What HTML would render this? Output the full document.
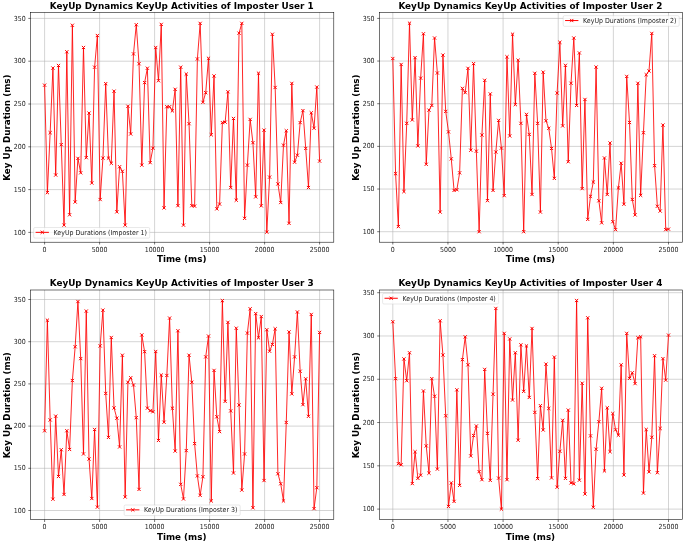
<!DOCTYPE html>
<html lang="en"><head><meta charset="utf-8"><title>KeyUp Dynamics</title>
<style>html,body{margin:0;padding:0;background:#fff}body{width:685px;height:543px;overflow:hidden}svg{display:block}text{font-family:"DejaVu Sans", "Liberation Sans", sans-serif;fill:#111}.t{font-weight:bold;font-size:8.85px;fill:#000}.l{font-weight:bold;font-size:8.75px;fill:#000}.k{font-family:"DejaVu Sans Condensed","DejaVu Sans","Liberation Sans",sans-serif;font-size:6.94px;fill:#222}.g{font-family:"DejaVu Sans Condensed","DejaVu Sans","Liberation Sans",sans-serif;font-size:6.94px;fill:#222;letter-spacing:0.02px}</style></head><body>
<svg width="685" height="543" viewBox="0 0 685 543">
<rect width="685" height="543" fill="#fff"/>
<g>
<path d="M44.6 12.3V242.2M99.6 12.3V242.2M154.6 12.3V242.2M209.6 12.3V242.2M264.6 12.3V242.2M319.6 12.3V242.2M30.6 232.4H333.8M30.6 189.6H333.8M30.6 146.8H333.8M30.6 104H333.8M30.6 61.2H333.8M30.6 18.4H333.8" stroke="#b0b0b0" stroke-width="0.55" fill="none"/>
<path d="M44.6 242.2v2.3M99.6 242.2v2.3M154.6 242.2v2.3M209.6 242.2v2.3M264.6 242.2v2.3M319.6 242.2v2.3M30.6 232.4h-2.3M30.6 189.6h-2.3M30.6 146.8h-2.3M30.6 104h-2.3M30.6 61.2h-2.3M30.6 18.4h-2.3" stroke="#000" stroke-width="0.55" fill="none"/>
<clipPath id="c1"><rect x="30.6" y="12.3" width="303.2" height="229.9"/></clipPath>
<g clip-path="url(#c1)">
<polyline points="44.6,85.17 47.38,192.6 50.16,132.68 52.93,68.05 55.71,175.05 58.49,65.48 61.27,144.66 64.04,225.12 66.82,51.78 69.6,214.77 72.38,25.25 75.16,202.01 77.93,158.36 80.71,172.82 83.49,47.5 86.27,157.67 89.04,113.07 91.82,183.01 94.6,67.19 97.38,35.52 100.16,199.53 102.93,158.1 105.71,83.63 108.49,158.1 111.27,163.32 114.04,91.16 116.82,211.86 119.6,166.74 122.38,171.28 125.16,225.12 127.93,106.23 130.71,133.96 133.49,53.92 136.27,24.73 139.04,63.77 141.82,165.12 144.6,82.6 147.38,68.22 150.16,162.64 152.93,148.17 155.71,47.5 158.49,80.72 161.27,24.39 164.04,207.92 166.82,106.74 169.6,106.74 172.38,110.85 175.16,89.28 177.93,205.69 180.71,67.19 183.49,225.12 186.27,74.04 189.04,123.69 191.82,205.69 194.6,206.12 197.38,58.97 200.16,23.36 202.93,102.29 205.71,92.7 208.49,58.29 211.27,134.82 214.04,75.92 216.82,208.86 219.6,204.07 222.38,122.58 225.16,122.15 227.93,91.76 230.71,187.55 233.49,118.47 236.27,200.21 239.04,33.12 241.82,23.36 244.6,218.36 247.38,165.12 250.16,119.41 252.93,142.69 255.71,196.88 258.49,73.18 261.27,205.86 264.04,130.11 266.82,232.14 269.6,177.1 272.38,34.24 275.16,87.48 277.93,183.95 280.71,202.53 283.49,145.17 286.27,130.71 289.04,223.33 291.82,83.37 294.6,162.21 297.38,155.19 300.16,122.58 302.93,110.59 305.71,148.43 308.49,187.55 311.27,112.82 314.04,128.22 316.82,87.05 319.6,161.1" fill="none" stroke="#ff0000" stroke-width="0.85" stroke-linejoin="round"/>
<path d="M43 83.57l3.2 3.2m0 -3.2l-3.2 3.2M45.78 191l3.2 3.2m0 -3.2l-3.2 3.2M48.56 131.08l3.2 3.2m0 -3.2l-3.2 3.2M51.33 66.45l3.2 3.2m0 -3.2l-3.2 3.2M54.11 173.45l3.2 3.2m0 -3.2l-3.2 3.2M56.89 63.88l3.2 3.2m0 -3.2l-3.2 3.2M59.67 143.06l3.2 3.2m0 -3.2l-3.2 3.2M62.44 223.52l3.2 3.2m0 -3.2l-3.2 3.2M65.22 50.18l3.2 3.2m0 -3.2l-3.2 3.2M68 213.17l3.2 3.2m0 -3.2l-3.2 3.2M70.78 23.65l3.2 3.2m0 -3.2l-3.2 3.2M73.56 200.41l3.2 3.2m0 -3.2l-3.2 3.2M76.33 156.76l3.2 3.2m0 -3.2l-3.2 3.2M79.11 171.22l3.2 3.2m0 -3.2l-3.2 3.2M81.89 45.9l3.2 3.2m0 -3.2l-3.2 3.2M84.67 156.07l3.2 3.2m0 -3.2l-3.2 3.2M87.44 111.47l3.2 3.2m0 -3.2l-3.2 3.2M90.22 181.41l3.2 3.2m0 -3.2l-3.2 3.2M93 65.59l3.2 3.2m0 -3.2l-3.2 3.2M95.78 33.92l3.2 3.2m0 -3.2l-3.2 3.2M98.56 197.93l3.2 3.2m0 -3.2l-3.2 3.2M101.33 156.5l3.2 3.2m0 -3.2l-3.2 3.2M104.11 82.03l3.2 3.2m0 -3.2l-3.2 3.2M106.89 156.5l3.2 3.2m0 -3.2l-3.2 3.2M109.67 161.72l3.2 3.2m0 -3.2l-3.2 3.2M112.44 89.56l3.2 3.2m0 -3.2l-3.2 3.2M115.22 210.26l3.2 3.2m0 -3.2l-3.2 3.2M118 165.14l3.2 3.2m0 -3.2l-3.2 3.2M120.78 169.68l3.2 3.2m0 -3.2l-3.2 3.2M123.56 223.52l3.2 3.2m0 -3.2l-3.2 3.2M126.33 104.63l3.2 3.2m0 -3.2l-3.2 3.2M129.11 132.36l3.2 3.2m0 -3.2l-3.2 3.2M131.89 52.32l3.2 3.2m0 -3.2l-3.2 3.2M134.67 23.13l3.2 3.2m0 -3.2l-3.2 3.2M137.44 62.17l3.2 3.2m0 -3.2l-3.2 3.2M140.22 163.52l3.2 3.2m0 -3.2l-3.2 3.2M143 81l3.2 3.2m0 -3.2l-3.2 3.2M145.78 66.62l3.2 3.2m0 -3.2l-3.2 3.2M148.56 161.04l3.2 3.2m0 -3.2l-3.2 3.2M151.33 146.57l3.2 3.2m0 -3.2l-3.2 3.2M154.11 45.9l3.2 3.2m0 -3.2l-3.2 3.2M156.89 79.12l3.2 3.2m0 -3.2l-3.2 3.2M159.67 22.79l3.2 3.2m0 -3.2l-3.2 3.2M162.44 206.32l3.2 3.2m0 -3.2l-3.2 3.2M165.22 105.14l3.2 3.2m0 -3.2l-3.2 3.2M168 105.14l3.2 3.2m0 -3.2l-3.2 3.2M170.78 109.25l3.2 3.2m0 -3.2l-3.2 3.2M173.56 87.68l3.2 3.2m0 -3.2l-3.2 3.2M176.33 204.09l3.2 3.2m0 -3.2l-3.2 3.2M179.11 65.59l3.2 3.2m0 -3.2l-3.2 3.2M181.89 223.52l3.2 3.2m0 -3.2l-3.2 3.2M184.67 72.44l3.2 3.2m0 -3.2l-3.2 3.2M187.44 122.09l3.2 3.2m0 -3.2l-3.2 3.2M190.22 204.09l3.2 3.2m0 -3.2l-3.2 3.2M193 204.52l3.2 3.2m0 -3.2l-3.2 3.2M195.78 57.37l3.2 3.2m0 -3.2l-3.2 3.2M198.56 21.76l3.2 3.2m0 -3.2l-3.2 3.2M201.33 100.69l3.2 3.2m0 -3.2l-3.2 3.2M204.11 91.1l3.2 3.2m0 -3.2l-3.2 3.2M206.89 56.69l3.2 3.2m0 -3.2l-3.2 3.2M209.67 133.22l3.2 3.2m0 -3.2l-3.2 3.2M212.44 74.32l3.2 3.2m0 -3.2l-3.2 3.2M215.22 207.26l3.2 3.2m0 -3.2l-3.2 3.2M218 202.47l3.2 3.2m0 -3.2l-3.2 3.2M220.78 120.98l3.2 3.2m0 -3.2l-3.2 3.2M223.56 120.55l3.2 3.2m0 -3.2l-3.2 3.2M226.33 90.16l3.2 3.2m0 -3.2l-3.2 3.2M229.11 185.95l3.2 3.2m0 -3.2l-3.2 3.2M231.89 116.87l3.2 3.2m0 -3.2l-3.2 3.2M234.67 198.61l3.2 3.2m0 -3.2l-3.2 3.2M237.44 31.52l3.2 3.2m0 -3.2l-3.2 3.2M240.22 21.76l3.2 3.2m0 -3.2l-3.2 3.2M243 216.76l3.2 3.2m0 -3.2l-3.2 3.2M245.78 163.52l3.2 3.2m0 -3.2l-3.2 3.2M248.56 117.81l3.2 3.2m0 -3.2l-3.2 3.2M251.33 141.09l3.2 3.2m0 -3.2l-3.2 3.2M254.11 195.28l3.2 3.2m0 -3.2l-3.2 3.2M256.89 71.58l3.2 3.2m0 -3.2l-3.2 3.2M259.67 204.26l3.2 3.2m0 -3.2l-3.2 3.2M262.44 128.51l3.2 3.2m0 -3.2l-3.2 3.2M265.22 230.54l3.2 3.2m0 -3.2l-3.2 3.2M268 175.5l3.2 3.2m0 -3.2l-3.2 3.2M270.78 32.64l3.2 3.2m0 -3.2l-3.2 3.2M273.56 85.88l3.2 3.2m0 -3.2l-3.2 3.2M276.33 182.35l3.2 3.2m0 -3.2l-3.2 3.2M279.11 200.93l3.2 3.2m0 -3.2l-3.2 3.2M281.89 143.57l3.2 3.2m0 -3.2l-3.2 3.2M284.67 129.11l3.2 3.2m0 -3.2l-3.2 3.2M287.44 221.73l3.2 3.2m0 -3.2l-3.2 3.2M290.22 81.77l3.2 3.2m0 -3.2l-3.2 3.2M293 160.61l3.2 3.2m0 -3.2l-3.2 3.2M295.78 153.59l3.2 3.2m0 -3.2l-3.2 3.2M298.56 120.98l3.2 3.2m0 -3.2l-3.2 3.2M301.33 108.99l3.2 3.2m0 -3.2l-3.2 3.2M304.11 146.83l3.2 3.2m0 -3.2l-3.2 3.2M306.89 185.95l3.2 3.2m0 -3.2l-3.2 3.2M309.67 111.22l3.2 3.2m0 -3.2l-3.2 3.2M312.44 126.62l3.2 3.2m0 -3.2l-3.2 3.2M315.22 85.45l3.2 3.2m0 -3.2l-3.2 3.2M318 159.5l3.2 3.2m0 -3.2l-3.2 3.2" stroke="#ff0000" stroke-width="1" fill="none"/>
</g>
<rect x="30.6" y="12.3" width="303.2" height="229.9" fill="none" stroke="#000" stroke-width="0.55"/>
<text class="k" x="44.6" y="251.9" text-anchor="middle">0</text>
<text class="k" x="99.6" y="251.9" text-anchor="middle">5000</text>
<text class="k" x="154.6" y="251.9" text-anchor="middle">10000</text>
<text class="k" x="209.6" y="251.9" text-anchor="middle">15000</text>
<text class="k" x="264.6" y="251.9" text-anchor="middle">20000</text>
<text class="k" x="319.6" y="251.9" text-anchor="middle">25000</text>
<text class="k" x="25.7" y="234.5" text-anchor="end">100</text>
<text class="k" x="25.7" y="191.7" text-anchor="end">150</text>
<text class="k" x="25.7" y="148.9" text-anchor="end">200</text>
<text class="k" x="25.7" y="106.1" text-anchor="end">250</text>
<text class="k" x="25.7" y="63.3" text-anchor="end">300</text>
<text class="k" x="25.7" y="20.5" text-anchor="end">350</text>
<text class="t" x="181.7" y="9.1" text-anchor="middle">KeyUp Dynamics KeyUp Activities of Imposter User 1</text>
<text class="l" x="181.7" y="262.3" text-anchor="middle">Time (ms)</text>
<text class="l" transform="translate(9.6 127.65) rotate(-90)" text-anchor="middle">Key Up Duration (ms)</text>
<rect x="33.7" y="227.5" width="116" height="10.6" rx="1.3" fill="#fff" fill-opacity="0.8" stroke="#ccc" stroke-opacity="0.8" stroke-width="0.55"/>
<path d="M35.6 232.35h13.3" stroke="#ff0000" stroke-width="1" fill="none"/>
<path d="M40.65 230.75l3.2 3.2m0 -3.2l-3.2 3.2" stroke="#ff0000" stroke-width="1" fill="none"/>
<text class="g" x="53.6" y="234.8">KeyUp Durations (Imposter 1)</text>
</g>
<g>
<path d="M392.8 12.3V242.2M447.94 12.3V242.2M503.08 12.3V242.2M558.22 12.3V242.2M613.36 12.3V242.2M668.5 12.3V242.2M379.5 231.7H682.3M379.5 189.04H682.3M379.5 146.38H682.3M379.5 103.72H682.3M379.5 61.06H682.3M379.5 18.4H682.3" stroke="#b0b0b0" stroke-width="0.55" fill="none"/>
<path d="M392.8 242.2v2.3M447.94 242.2v2.3M503.08 242.2v2.3M558.22 242.2v2.3M613.36 242.2v2.3M668.5 242.2v2.3M379.5 231.7h-2.3M379.5 189.04h-2.3M379.5 146.38h-2.3M379.5 103.72h-2.3M379.5 61.06h-2.3M379.5 18.4h-2.3" stroke="#000" stroke-width="0.55" fill="none"/>
<clipPath id="c2"><rect x="379.5" y="12.3" width="302.8" height="229.9"/></clipPath>
<g clip-path="url(#c2)">
<polyline points="392.8,58.5 395.58,173.68 398.37,226.58 401.15,64.47 403.94,191.6 406.72,123.34 409.51,23.18 412.29,119.93 415.08,57.65 417.86,145.95 420.65,78.12 423.43,33.76 426.22,164.3 429,110.12 431.79,105.43 434.57,38.02 437.36,73 440.14,212.08 442.93,55.09 445.71,111.4 448.5,131.88 451.28,158.84 454.07,190.41 456.85,189.72 459.64,172.83 462.42,88.36 465.21,92.63 467.99,68.31 470.78,150.22 473.56,63.62 476.35,151.16 479.13,231.7 481.92,135.03 484.7,80.26 487.48,200.64 490.27,93.91 493.05,190.41 495.84,152.01 498.62,120.36 501.41,148.09 504.19,195.61 506.98,56.79 509.76,135.97 512.55,34.18 515.33,104.57 518.12,60.21 520.9,123.34 523.69,231.7 526.47,114.38 529.26,134.44 532.04,194.5 534.83,73.26 537.61,123.34 540.4,212.08 543.18,72.15 545.97,120.78 548.75,128.29 551.54,148.43 554.32,178.38 557.11,93.06 559.89,42.29 562.68,125.9 565.46,65.33 568.25,161.74 571.03,83.24 573.82,38.02 576.6,105.43 579.38,52.95 582.17,188.61 584.95,99.45 587.74,219.41 590.52,196.29 593.31,182.04 596.09,67.03 598.88,200.81 601.66,222.83 604.45,157.98 607.23,194.5 610.02,142.97 612.8,221.72 615.59,229.65 618.37,187.93 621.16,163.19 623.94,204.23 626.73,76.42 629.51,122.49 632.3,199.45 635.08,214.89 637.87,83.24 640.65,195.35 643.44,132.73 646.22,74.71 649.01,70.96 651.79,33.42 654.58,165.66 657.36,206.27 660.15,211.05 662.93,125.05 665.72,229.65 668.5,229.14" fill="none" stroke="#ff0000" stroke-width="0.85" stroke-linejoin="round"/>
<path d="M391.2 56.9l3.2 3.2m0 -3.2l-3.2 3.2M393.98 172.08l3.2 3.2m0 -3.2l-3.2 3.2M396.77 224.98l3.2 3.2m0 -3.2l-3.2 3.2M399.55 62.87l3.2 3.2m0 -3.2l-3.2 3.2M402.34 190l3.2 3.2m0 -3.2l-3.2 3.2M405.12 121.74l3.2 3.2m0 -3.2l-3.2 3.2M407.91 21.58l3.2 3.2m0 -3.2l-3.2 3.2M410.69 118.33l3.2 3.2m0 -3.2l-3.2 3.2M413.48 56.05l3.2 3.2m0 -3.2l-3.2 3.2M416.26 144.35l3.2 3.2m0 -3.2l-3.2 3.2M419.05 76.52l3.2 3.2m0 -3.2l-3.2 3.2M421.83 32.16l3.2 3.2m0 -3.2l-3.2 3.2M424.62 162.7l3.2 3.2m0 -3.2l-3.2 3.2M427.4 108.52l3.2 3.2m0 -3.2l-3.2 3.2M430.19 103.83l3.2 3.2m0 -3.2l-3.2 3.2M432.97 36.42l3.2 3.2m0 -3.2l-3.2 3.2M435.76 71.4l3.2 3.2m0 -3.2l-3.2 3.2M438.54 210.48l3.2 3.2m0 -3.2l-3.2 3.2M441.33 53.49l3.2 3.2m0 -3.2l-3.2 3.2M444.11 109.8l3.2 3.2m0 -3.2l-3.2 3.2M446.9 130.28l3.2 3.2m0 -3.2l-3.2 3.2M449.68 157.24l3.2 3.2m0 -3.2l-3.2 3.2M452.47 188.81l3.2 3.2m0 -3.2l-3.2 3.2M455.25 188.12l3.2 3.2m0 -3.2l-3.2 3.2M458.04 171.23l3.2 3.2m0 -3.2l-3.2 3.2M460.82 86.76l3.2 3.2m0 -3.2l-3.2 3.2M463.61 91.03l3.2 3.2m0 -3.2l-3.2 3.2M466.39 66.71l3.2 3.2m0 -3.2l-3.2 3.2M469.18 148.62l3.2 3.2m0 -3.2l-3.2 3.2M471.96 62.02l3.2 3.2m0 -3.2l-3.2 3.2M474.75 149.56l3.2 3.2m0 -3.2l-3.2 3.2M477.53 230.1l3.2 3.2m0 -3.2l-3.2 3.2M480.32 133.43l3.2 3.2m0 -3.2l-3.2 3.2M483.1 78.66l3.2 3.2m0 -3.2l-3.2 3.2M485.88 199.04l3.2 3.2m0 -3.2l-3.2 3.2M488.67 92.31l3.2 3.2m0 -3.2l-3.2 3.2M491.45 188.81l3.2 3.2m0 -3.2l-3.2 3.2M494.24 150.41l3.2 3.2m0 -3.2l-3.2 3.2M497.02 118.76l3.2 3.2m0 -3.2l-3.2 3.2M499.81 146.49l3.2 3.2m0 -3.2l-3.2 3.2M502.59 194.01l3.2 3.2m0 -3.2l-3.2 3.2M505.38 55.19l3.2 3.2m0 -3.2l-3.2 3.2M508.16 134.37l3.2 3.2m0 -3.2l-3.2 3.2M510.95 32.58l3.2 3.2m0 -3.2l-3.2 3.2M513.73 102.97l3.2 3.2m0 -3.2l-3.2 3.2M516.52 58.61l3.2 3.2m0 -3.2l-3.2 3.2M519.3 121.74l3.2 3.2m0 -3.2l-3.2 3.2M522.09 230.1l3.2 3.2m0 -3.2l-3.2 3.2M524.87 112.78l3.2 3.2m0 -3.2l-3.2 3.2M527.66 132.84l3.2 3.2m0 -3.2l-3.2 3.2M530.44 192.9l3.2 3.2m0 -3.2l-3.2 3.2M533.23 71.66l3.2 3.2m0 -3.2l-3.2 3.2M536.01 121.74l3.2 3.2m0 -3.2l-3.2 3.2M538.8 210.48l3.2 3.2m0 -3.2l-3.2 3.2M541.58 70.55l3.2 3.2m0 -3.2l-3.2 3.2M544.37 119.18l3.2 3.2m0 -3.2l-3.2 3.2M547.15 126.69l3.2 3.2m0 -3.2l-3.2 3.2M549.94 146.83l3.2 3.2m0 -3.2l-3.2 3.2M552.72 176.78l3.2 3.2m0 -3.2l-3.2 3.2M555.51 91.46l3.2 3.2m0 -3.2l-3.2 3.2M558.29 40.69l3.2 3.2m0 -3.2l-3.2 3.2M561.08 124.3l3.2 3.2m0 -3.2l-3.2 3.2M563.86 63.73l3.2 3.2m0 -3.2l-3.2 3.2M566.65 160.14l3.2 3.2m0 -3.2l-3.2 3.2M569.43 81.64l3.2 3.2m0 -3.2l-3.2 3.2M572.22 36.42l3.2 3.2m0 -3.2l-3.2 3.2M575 103.83l3.2 3.2m0 -3.2l-3.2 3.2M577.78 51.35l3.2 3.2m0 -3.2l-3.2 3.2M580.57 187.01l3.2 3.2m0 -3.2l-3.2 3.2M583.35 97.85l3.2 3.2m0 -3.2l-3.2 3.2M586.14 217.81l3.2 3.2m0 -3.2l-3.2 3.2M588.92 194.69l3.2 3.2m0 -3.2l-3.2 3.2M591.71 180.44l3.2 3.2m0 -3.2l-3.2 3.2M594.49 65.43l3.2 3.2m0 -3.2l-3.2 3.2M597.28 199.21l3.2 3.2m0 -3.2l-3.2 3.2M600.06 221.23l3.2 3.2m0 -3.2l-3.2 3.2M602.85 156.38l3.2 3.2m0 -3.2l-3.2 3.2M605.63 192.9l3.2 3.2m0 -3.2l-3.2 3.2M608.42 141.37l3.2 3.2m0 -3.2l-3.2 3.2M611.2 220.12l3.2 3.2m0 -3.2l-3.2 3.2M613.99 228.05l3.2 3.2m0 -3.2l-3.2 3.2M616.77 186.33l3.2 3.2m0 -3.2l-3.2 3.2M619.56 161.59l3.2 3.2m0 -3.2l-3.2 3.2M622.34 202.63l3.2 3.2m0 -3.2l-3.2 3.2M625.13 74.82l3.2 3.2m0 -3.2l-3.2 3.2M627.91 120.89l3.2 3.2m0 -3.2l-3.2 3.2M630.7 197.85l3.2 3.2m0 -3.2l-3.2 3.2M633.48 213.29l3.2 3.2m0 -3.2l-3.2 3.2M636.27 81.64l3.2 3.2m0 -3.2l-3.2 3.2M639.05 193.75l3.2 3.2m0 -3.2l-3.2 3.2M641.84 131.13l3.2 3.2m0 -3.2l-3.2 3.2M644.62 73.11l3.2 3.2m0 -3.2l-3.2 3.2M647.41 69.36l3.2 3.2m0 -3.2l-3.2 3.2M650.19 31.82l3.2 3.2m0 -3.2l-3.2 3.2M652.98 164.06l3.2 3.2m0 -3.2l-3.2 3.2M655.76 204.67l3.2 3.2m0 -3.2l-3.2 3.2M658.55 209.45l3.2 3.2m0 -3.2l-3.2 3.2M661.33 123.45l3.2 3.2m0 -3.2l-3.2 3.2M664.12 228.05l3.2 3.2m0 -3.2l-3.2 3.2M666.9 227.54l3.2 3.2m0 -3.2l-3.2 3.2" stroke="#ff0000" stroke-width="1" fill="none"/>
</g>
<rect x="379.5" y="12.3" width="302.8" height="229.9" fill="none" stroke="#000" stroke-width="0.55"/>
<text class="k" x="392.8" y="251.9" text-anchor="middle">0</text>
<text class="k" x="447.94" y="251.9" text-anchor="middle">5000</text>
<text class="k" x="503.08" y="251.9" text-anchor="middle">10000</text>
<text class="k" x="558.22" y="251.9" text-anchor="middle">15000</text>
<text class="k" x="613.36" y="251.9" text-anchor="middle">20000</text>
<text class="k" x="668.5" y="251.9" text-anchor="middle">25000</text>
<text class="k" x="374.6" y="233.8" text-anchor="end">100</text>
<text class="k" x="374.6" y="191.14" text-anchor="end">150</text>
<text class="k" x="374.6" y="148.48" text-anchor="end">200</text>
<text class="k" x="374.6" y="105.82" text-anchor="end">250</text>
<text class="k" x="374.6" y="63.16" text-anchor="end">300</text>
<text class="k" x="374.6" y="20.5" text-anchor="end">350</text>
<text class="t" x="530.4" y="9.1" text-anchor="middle">KeyUp Dynamics KeyUp Activities of Imposter User 2</text>
<text class="l" x="530.4" y="262.3" text-anchor="middle">Time (ms)</text>
<text class="l" transform="translate(358.5 127.65) rotate(-90)" text-anchor="middle">Key Up Duration (ms)</text>
<rect x="563.2" y="15.7" width="116" height="10.6" rx="1.3" fill="#fff" fill-opacity="0.8" stroke="#ccc" stroke-opacity="0.8" stroke-width="0.55"/>
<path d="M565.1 20.55h13.3" stroke="#ff0000" stroke-width="1" fill="none"/>
<path d="M570.15 18.95l3.2 3.2m0 -3.2l-3.2 3.2" stroke="#ff0000" stroke-width="1" fill="none"/>
<text class="g" x="583.1" y="23">KeyUp Durations (Imposter 2)</text>
</g>
<g>
<path d="M44.6 290V519.7M99.6 290V519.7M154.6 290V519.7M209.6 290V519.7M264.6 290V519.7M319.6 290V519.7M30.6 510.5H333.8M30.6 468.3H333.8M30.6 426.1H333.8M30.6 383.9H333.8M30.6 341.7H333.8M30.6 299.5H333.8" stroke="#b0b0b0" stroke-width="0.55" fill="none"/>
<path d="M44.6 519.7v2.3M99.6 519.7v2.3M154.6 519.7v2.3M209.6 519.7v2.3M264.6 519.7v2.3M319.6 519.7v2.3M30.6 510.5h-2.3M30.6 468.3h-2.3M30.6 426.1h-2.3M30.6 383.9h-2.3M30.6 341.7h-2.3M30.6 299.5h-2.3" stroke="#000" stroke-width="0.55" fill="none"/>
<clipPath id="c3"><rect x="30.6" y="290" width="303.2" height="229.7"/></clipPath>
<g clip-path="url(#c3)">
<polyline points="44.6,430.83 47.38,320.18 50.16,419.94 52.93,499.19 55.71,416.14 58.49,476.49 61.27,449.73 64.04,494.46 66.82,430.74 69.6,449.48 72.38,380.52 75.16,346.76 77.93,301.53 80.71,358.58 83.49,453.95 86.27,311.06 89.04,459.02 91.82,498.52 94.6,429.48 97.38,507.12 100.16,345.92 102.93,310.13 105.71,393.44 108.49,437.41 111.27,337.48 114.04,407.95 116.82,418.17 119.6,446.95 122.38,355.2 125.16,497 127.93,382.21 130.71,377.74 133.49,385 136.27,417.66 139.04,489.4 141.82,334.95 144.6,351.66 147.38,408.12 150.16,410.65 152.93,411.75 155.71,351.49 158.49,440.45 161.27,375.04 164.04,422.22 166.82,375.46 169.6,318.07 172.38,408.21 175.16,451.08 177.93,330.73 180.71,484.34 183.49,498.94 186.27,450.58 189.04,355.2 191.82,382.21 194.6,443.57 197.38,475.9 200.16,495.31 202.93,476.74 205.71,356.89 208.49,336.05 211.27,500.96 214.04,370.4 216.82,416.82 219.6,431.59 222.38,300.6 225.16,401.37 227.93,322.29 230.71,410.91 233.49,473.03 236.27,328.2 239.04,405 241.82,490.08 244.6,453.95 247.38,333.09 250.16,308.78 252.93,507.8 255.71,313.59 258.49,337.82 261.27,316.55 264.04,480.54 266.82,329.72 269.6,351.24 272.38,344.4 275.16,328.79 277.93,473.79 280.71,483.75 283.49,500.96 286.27,422.47 289.04,331.91 291.82,393.86 294.6,356.89 297.38,311.99 300.16,371.24 302.93,404.66 305.71,378.84 308.49,416.31 311.27,314.44 314.04,508.64 316.82,487.71 319.6,332.42" fill="none" stroke="#ff0000" stroke-width="0.85" stroke-linejoin="round"/>
<path d="M43 429.23l3.2 3.2m0 -3.2l-3.2 3.2M45.78 318.58l3.2 3.2m0 -3.2l-3.2 3.2M48.56 418.34l3.2 3.2m0 -3.2l-3.2 3.2M51.33 497.59l3.2 3.2m0 -3.2l-3.2 3.2M54.11 414.54l3.2 3.2m0 -3.2l-3.2 3.2M56.89 474.89l3.2 3.2m0 -3.2l-3.2 3.2M59.67 448.13l3.2 3.2m0 -3.2l-3.2 3.2M62.44 492.86l3.2 3.2m0 -3.2l-3.2 3.2M65.22 429.14l3.2 3.2m0 -3.2l-3.2 3.2M68 447.88l3.2 3.2m0 -3.2l-3.2 3.2M70.78 378.92l3.2 3.2m0 -3.2l-3.2 3.2M73.56 345.16l3.2 3.2m0 -3.2l-3.2 3.2M76.33 299.93l3.2 3.2m0 -3.2l-3.2 3.2M79.11 356.98l3.2 3.2m0 -3.2l-3.2 3.2M81.89 452.35l3.2 3.2m0 -3.2l-3.2 3.2M84.67 309.46l3.2 3.2m0 -3.2l-3.2 3.2M87.44 457.42l3.2 3.2m0 -3.2l-3.2 3.2M90.22 496.92l3.2 3.2m0 -3.2l-3.2 3.2M93 427.88l3.2 3.2m0 -3.2l-3.2 3.2M95.78 505.52l3.2 3.2m0 -3.2l-3.2 3.2M98.56 344.32l3.2 3.2m0 -3.2l-3.2 3.2M101.33 308.53l3.2 3.2m0 -3.2l-3.2 3.2M104.11 391.84l3.2 3.2m0 -3.2l-3.2 3.2M106.89 435.81l3.2 3.2m0 -3.2l-3.2 3.2M109.67 335.88l3.2 3.2m0 -3.2l-3.2 3.2M112.44 406.35l3.2 3.2m0 -3.2l-3.2 3.2M115.22 416.57l3.2 3.2m0 -3.2l-3.2 3.2M118 445.35l3.2 3.2m0 -3.2l-3.2 3.2M120.78 353.6l3.2 3.2m0 -3.2l-3.2 3.2M123.56 495.4l3.2 3.2m0 -3.2l-3.2 3.2M126.33 380.61l3.2 3.2m0 -3.2l-3.2 3.2M129.11 376.14l3.2 3.2m0 -3.2l-3.2 3.2M131.89 383.4l3.2 3.2m0 -3.2l-3.2 3.2M134.67 416.06l3.2 3.2m0 -3.2l-3.2 3.2M137.44 487.8l3.2 3.2m0 -3.2l-3.2 3.2M140.22 333.35l3.2 3.2m0 -3.2l-3.2 3.2M143 350.06l3.2 3.2m0 -3.2l-3.2 3.2M145.78 406.52l3.2 3.2m0 -3.2l-3.2 3.2M148.56 409.05l3.2 3.2m0 -3.2l-3.2 3.2M151.33 410.15l3.2 3.2m0 -3.2l-3.2 3.2M154.11 349.89l3.2 3.2m0 -3.2l-3.2 3.2M156.89 438.85l3.2 3.2m0 -3.2l-3.2 3.2M159.67 373.44l3.2 3.2m0 -3.2l-3.2 3.2M162.44 420.62l3.2 3.2m0 -3.2l-3.2 3.2M165.22 373.86l3.2 3.2m0 -3.2l-3.2 3.2M168 316.47l3.2 3.2m0 -3.2l-3.2 3.2M170.78 406.61l3.2 3.2m0 -3.2l-3.2 3.2M173.56 449.48l3.2 3.2m0 -3.2l-3.2 3.2M176.33 329.13l3.2 3.2m0 -3.2l-3.2 3.2M179.11 482.74l3.2 3.2m0 -3.2l-3.2 3.2M181.89 497.34l3.2 3.2m0 -3.2l-3.2 3.2M184.67 448.98l3.2 3.2m0 -3.2l-3.2 3.2M187.44 353.6l3.2 3.2m0 -3.2l-3.2 3.2M190.22 380.61l3.2 3.2m0 -3.2l-3.2 3.2M193 441.97l3.2 3.2m0 -3.2l-3.2 3.2M195.78 474.3l3.2 3.2m0 -3.2l-3.2 3.2M198.56 493.71l3.2 3.2m0 -3.2l-3.2 3.2M201.33 475.14l3.2 3.2m0 -3.2l-3.2 3.2M204.11 355.29l3.2 3.2m0 -3.2l-3.2 3.2M206.89 334.45l3.2 3.2m0 -3.2l-3.2 3.2M209.67 499.36l3.2 3.2m0 -3.2l-3.2 3.2M212.44 368.8l3.2 3.2m0 -3.2l-3.2 3.2M215.22 415.22l3.2 3.2m0 -3.2l-3.2 3.2M218 429.99l3.2 3.2m0 -3.2l-3.2 3.2M220.78 299l3.2 3.2m0 -3.2l-3.2 3.2M223.56 399.77l3.2 3.2m0 -3.2l-3.2 3.2M226.33 320.69l3.2 3.2m0 -3.2l-3.2 3.2M229.11 409.31l3.2 3.2m0 -3.2l-3.2 3.2M231.89 471.43l3.2 3.2m0 -3.2l-3.2 3.2M234.67 326.6l3.2 3.2m0 -3.2l-3.2 3.2M237.44 403.4l3.2 3.2m0 -3.2l-3.2 3.2M240.22 488.48l3.2 3.2m0 -3.2l-3.2 3.2M243 452.35l3.2 3.2m0 -3.2l-3.2 3.2M245.78 331.49l3.2 3.2m0 -3.2l-3.2 3.2M248.56 307.18l3.2 3.2m0 -3.2l-3.2 3.2M251.33 506.2l3.2 3.2m0 -3.2l-3.2 3.2M254.11 311.99l3.2 3.2m0 -3.2l-3.2 3.2M256.89 336.22l3.2 3.2m0 -3.2l-3.2 3.2M259.67 314.95l3.2 3.2m0 -3.2l-3.2 3.2M262.44 478.94l3.2 3.2m0 -3.2l-3.2 3.2M265.22 328.12l3.2 3.2m0 -3.2l-3.2 3.2M268 349.64l3.2 3.2m0 -3.2l-3.2 3.2M270.78 342.8l3.2 3.2m0 -3.2l-3.2 3.2M273.56 327.19l3.2 3.2m0 -3.2l-3.2 3.2M276.33 472.19l3.2 3.2m0 -3.2l-3.2 3.2M279.11 482.15l3.2 3.2m0 -3.2l-3.2 3.2M281.89 499.36l3.2 3.2m0 -3.2l-3.2 3.2M284.67 420.87l3.2 3.2m0 -3.2l-3.2 3.2M287.44 330.31l3.2 3.2m0 -3.2l-3.2 3.2M290.22 392.26l3.2 3.2m0 -3.2l-3.2 3.2M293 355.29l3.2 3.2m0 -3.2l-3.2 3.2M295.78 310.39l3.2 3.2m0 -3.2l-3.2 3.2M298.56 369.64l3.2 3.2m0 -3.2l-3.2 3.2M301.33 403.06l3.2 3.2m0 -3.2l-3.2 3.2M304.11 377.24l3.2 3.2m0 -3.2l-3.2 3.2M306.89 414.71l3.2 3.2m0 -3.2l-3.2 3.2M309.67 312.84l3.2 3.2m0 -3.2l-3.2 3.2M312.44 507.04l3.2 3.2m0 -3.2l-3.2 3.2M315.22 486.11l3.2 3.2m0 -3.2l-3.2 3.2M318 330.82l3.2 3.2m0 -3.2l-3.2 3.2" stroke="#ff0000" stroke-width="1" fill="none"/>
</g>
<rect x="30.6" y="290" width="303.2" height="229.7" fill="none" stroke="#000" stroke-width="0.55"/>
<text class="k" x="44.6" y="529" text-anchor="middle">0</text>
<text class="k" x="99.6" y="529" text-anchor="middle">5000</text>
<text class="k" x="154.6" y="529" text-anchor="middle">10000</text>
<text class="k" x="209.6" y="529" text-anchor="middle">15000</text>
<text class="k" x="264.6" y="529" text-anchor="middle">20000</text>
<text class="k" x="319.6" y="529" text-anchor="middle">25000</text>
<text class="k" x="25.7" y="512.6" text-anchor="end">100</text>
<text class="k" x="25.7" y="470.4" text-anchor="end">150</text>
<text class="k" x="25.7" y="428.2" text-anchor="end">200</text>
<text class="k" x="25.7" y="386" text-anchor="end">250</text>
<text class="k" x="25.7" y="343.8" text-anchor="end">300</text>
<text class="k" x="25.7" y="301.6" text-anchor="end">350</text>
<text class="t" x="181.7" y="286.2" text-anchor="middle">KeyUp Dynamics KeyUp Activities of Imposter User 3</text>
<text class="l" x="181.7" y="540" text-anchor="middle">Time (ms)</text>
<text class="l" transform="translate(9.6 405.25) rotate(-90)" text-anchor="middle">Key Up Duration (ms)</text>
<rect x="124.2" y="505" width="116" height="10.6" rx="1.3" fill="#fff" fill-opacity="0.8" stroke="#ccc" stroke-opacity="0.8" stroke-width="0.55"/>
<path d="M126.1 509.85h13.3" stroke="#ff0000" stroke-width="1" fill="none"/>
<path d="M131.15 508.25l3.2 3.2m0 -3.2l-3.2 3.2" stroke="#ff0000" stroke-width="1" fill="none"/>
<text class="g" x="144.1" y="512.3">KeyUp Durations (Imposter 3)</text>
</g>
<g>
<path d="M392.8 290V519.7M447.94 290V519.7M503.08 290V519.7M558.22 290V519.7M613.36 290V519.7M668.5 290V519.7M379.5 509.1H682.3M379.5 465.82H682.3M379.5 422.54H682.3M379.5 379.26H682.3M379.5 335.98H682.3M379.5 292.7H682.3" stroke="#b0b0b0" stroke-width="0.55" fill="none"/>
<path d="M392.8 519.7v2.3M447.94 519.7v2.3M503.08 519.7v2.3M558.22 519.7v2.3M613.36 519.7v2.3M668.5 519.7v2.3M379.5 509.1h-2.3M379.5 465.82h-2.3M379.5 422.54h-2.3M379.5 379.26h-2.3M379.5 335.98h-2.3M379.5 292.7h-2.3" stroke="#000" stroke-width="0.55" fill="none"/>
<clipPath id="c4"><rect x="379.5" y="290" width="302.8" height="229.7"/></clipPath>
<g clip-path="url(#c4)">
<polyline points="392.8,321.7 395.58,378.65 398.37,463.66 401.15,464.78 403.94,358.92 406.72,380.73 409.51,352.77 412.29,483.56 415.08,451.71 417.86,478.37 420.65,475.17 423.43,390.95 426.22,445.91 429,473.18 431.79,378.65 434.57,396.23 437.36,469.11 440.14,320.75 442.93,355.02 445.71,415.79 448.5,506.42 451.28,482.87 454.07,501.4 456.85,389.82 459.64,485.38 462.42,359.61 465.21,336.85 467.99,364.8 470.78,455.95 473.56,435.52 476.35,426 479.13,471.62 481.92,479.67 484.7,369.39 487.48,433.36 490.27,480.36 493.05,394.15 495.84,308.45 498.62,478.11 501.41,509.1 504.19,333.38 506.98,479.67 509.76,338.92 512.55,400.03 515.33,352.77 518.12,440.2 520.9,344.81 523.69,391.38 526.47,345.93 529.26,397.44 532.04,328.45 534.83,412.41 537.61,478.63 540.4,405.66 543.18,429.98 545.97,364.11 548.75,408.43 551.54,477.94 554.32,357.1 557.11,487.2 559.89,451.28 562.68,420.29 565.46,478.37 568.25,410.08 571.03,482.87 573.82,483.82 576.6,300.49 579.38,480.19 582.17,383.24 584.95,493.95 587.74,317.8 590.52,435.87 593.31,507.28 596.09,449.2 598.88,421.67 601.66,388.26 604.45,470.93 607.23,407.82 610.02,451.71 612.8,413.54 615.59,429.81 618.37,435.18 621.16,364.8 623.94,475 626.73,333.38 629.51,378.39 632.3,372.77 635.08,383.59 637.87,337.71 640.65,336.85 643.44,493.09 646.22,429.46 649.01,471.88 651.79,437.26 654.58,355.72 657.36,472.74 660.15,428.43 662.93,358.66 665.72,380.13 668.5,335.11" fill="none" stroke="#ff0000" stroke-width="0.85" stroke-linejoin="round"/>
<path d="M391.2 320.1l3.2 3.2m0 -3.2l-3.2 3.2M393.98 377.05l3.2 3.2m0 -3.2l-3.2 3.2M396.77 462.06l3.2 3.2m0 -3.2l-3.2 3.2M399.55 463.18l3.2 3.2m0 -3.2l-3.2 3.2M402.34 357.32l3.2 3.2m0 -3.2l-3.2 3.2M405.12 379.13l3.2 3.2m0 -3.2l-3.2 3.2M407.91 351.17l3.2 3.2m0 -3.2l-3.2 3.2M410.69 481.96l3.2 3.2m0 -3.2l-3.2 3.2M413.48 450.11l3.2 3.2m0 -3.2l-3.2 3.2M416.26 476.77l3.2 3.2m0 -3.2l-3.2 3.2M419.05 473.57l3.2 3.2m0 -3.2l-3.2 3.2M421.83 389.35l3.2 3.2m0 -3.2l-3.2 3.2M424.62 444.31l3.2 3.2m0 -3.2l-3.2 3.2M427.4 471.58l3.2 3.2m0 -3.2l-3.2 3.2M430.19 377.05l3.2 3.2m0 -3.2l-3.2 3.2M432.97 394.63l3.2 3.2m0 -3.2l-3.2 3.2M435.76 467.51l3.2 3.2m0 -3.2l-3.2 3.2M438.54 319.15l3.2 3.2m0 -3.2l-3.2 3.2M441.33 353.42l3.2 3.2m0 -3.2l-3.2 3.2M444.11 414.19l3.2 3.2m0 -3.2l-3.2 3.2M446.9 504.82l3.2 3.2m0 -3.2l-3.2 3.2M449.68 481.27l3.2 3.2m0 -3.2l-3.2 3.2M452.47 499.8l3.2 3.2m0 -3.2l-3.2 3.2M455.25 388.22l3.2 3.2m0 -3.2l-3.2 3.2M458.04 483.78l3.2 3.2m0 -3.2l-3.2 3.2M460.82 358.01l3.2 3.2m0 -3.2l-3.2 3.2M463.61 335.25l3.2 3.2m0 -3.2l-3.2 3.2M466.39 363.2l3.2 3.2m0 -3.2l-3.2 3.2M469.18 454.35l3.2 3.2m0 -3.2l-3.2 3.2M471.96 433.92l3.2 3.2m0 -3.2l-3.2 3.2M474.75 424.4l3.2 3.2m0 -3.2l-3.2 3.2M477.53 470.02l3.2 3.2m0 -3.2l-3.2 3.2M480.32 478.07l3.2 3.2m0 -3.2l-3.2 3.2M483.1 367.79l3.2 3.2m0 -3.2l-3.2 3.2M485.88 431.76l3.2 3.2m0 -3.2l-3.2 3.2M488.67 478.76l3.2 3.2m0 -3.2l-3.2 3.2M491.45 392.55l3.2 3.2m0 -3.2l-3.2 3.2M494.24 306.85l3.2 3.2m0 -3.2l-3.2 3.2M497.02 476.51l3.2 3.2m0 -3.2l-3.2 3.2M499.81 507.5l3.2 3.2m0 -3.2l-3.2 3.2M502.59 331.78l3.2 3.2m0 -3.2l-3.2 3.2M505.38 478.07l3.2 3.2m0 -3.2l-3.2 3.2M508.16 337.32l3.2 3.2m0 -3.2l-3.2 3.2M510.95 398.43l3.2 3.2m0 -3.2l-3.2 3.2M513.73 351.17l3.2 3.2m0 -3.2l-3.2 3.2M516.52 438.6l3.2 3.2m0 -3.2l-3.2 3.2M519.3 343.21l3.2 3.2m0 -3.2l-3.2 3.2M522.09 389.78l3.2 3.2m0 -3.2l-3.2 3.2M524.87 344.33l3.2 3.2m0 -3.2l-3.2 3.2M527.66 395.84l3.2 3.2m0 -3.2l-3.2 3.2M530.44 326.85l3.2 3.2m0 -3.2l-3.2 3.2M533.23 410.81l3.2 3.2m0 -3.2l-3.2 3.2M536.01 477.03l3.2 3.2m0 -3.2l-3.2 3.2M538.8 404.06l3.2 3.2m0 -3.2l-3.2 3.2M541.58 428.38l3.2 3.2m0 -3.2l-3.2 3.2M544.37 362.51l3.2 3.2m0 -3.2l-3.2 3.2M547.15 406.83l3.2 3.2m0 -3.2l-3.2 3.2M549.94 476.34l3.2 3.2m0 -3.2l-3.2 3.2M552.72 355.5l3.2 3.2m0 -3.2l-3.2 3.2M555.51 485.6l3.2 3.2m0 -3.2l-3.2 3.2M558.29 449.68l3.2 3.2m0 -3.2l-3.2 3.2M561.08 418.69l3.2 3.2m0 -3.2l-3.2 3.2M563.86 476.77l3.2 3.2m0 -3.2l-3.2 3.2M566.65 408.48l3.2 3.2m0 -3.2l-3.2 3.2M569.43 481.27l3.2 3.2m0 -3.2l-3.2 3.2M572.22 482.22l3.2 3.2m0 -3.2l-3.2 3.2M575 298.89l3.2 3.2m0 -3.2l-3.2 3.2M577.78 478.59l3.2 3.2m0 -3.2l-3.2 3.2M580.57 381.64l3.2 3.2m0 -3.2l-3.2 3.2M583.35 492.35l3.2 3.2m0 -3.2l-3.2 3.2M586.14 316.2l3.2 3.2m0 -3.2l-3.2 3.2M588.92 434.27l3.2 3.2m0 -3.2l-3.2 3.2M591.71 505.68l3.2 3.2m0 -3.2l-3.2 3.2M594.49 447.6l3.2 3.2m0 -3.2l-3.2 3.2M597.28 420.07l3.2 3.2m0 -3.2l-3.2 3.2M600.06 386.66l3.2 3.2m0 -3.2l-3.2 3.2M602.85 469.33l3.2 3.2m0 -3.2l-3.2 3.2M605.63 406.22l3.2 3.2m0 -3.2l-3.2 3.2M608.42 450.11l3.2 3.2m0 -3.2l-3.2 3.2M611.2 411.94l3.2 3.2m0 -3.2l-3.2 3.2M613.99 428.21l3.2 3.2m0 -3.2l-3.2 3.2M616.77 433.58l3.2 3.2m0 -3.2l-3.2 3.2M619.56 363.2l3.2 3.2m0 -3.2l-3.2 3.2M622.34 473.4l3.2 3.2m0 -3.2l-3.2 3.2M625.13 331.78l3.2 3.2m0 -3.2l-3.2 3.2M627.91 376.79l3.2 3.2m0 -3.2l-3.2 3.2M630.7 371.17l3.2 3.2m0 -3.2l-3.2 3.2M633.48 381.99l3.2 3.2m0 -3.2l-3.2 3.2M636.27 336.11l3.2 3.2m0 -3.2l-3.2 3.2M639.05 335.25l3.2 3.2m0 -3.2l-3.2 3.2M641.84 491.49l3.2 3.2m0 -3.2l-3.2 3.2M644.62 427.86l3.2 3.2m0 -3.2l-3.2 3.2M647.41 470.28l3.2 3.2m0 -3.2l-3.2 3.2M650.19 435.66l3.2 3.2m0 -3.2l-3.2 3.2M652.98 354.12l3.2 3.2m0 -3.2l-3.2 3.2M655.76 471.14l3.2 3.2m0 -3.2l-3.2 3.2M658.55 426.83l3.2 3.2m0 -3.2l-3.2 3.2M661.33 357.06l3.2 3.2m0 -3.2l-3.2 3.2M664.12 378.53l3.2 3.2m0 -3.2l-3.2 3.2M666.9 333.51l3.2 3.2m0 -3.2l-3.2 3.2" stroke="#ff0000" stroke-width="1" fill="none"/>
</g>
<rect x="379.5" y="290" width="302.8" height="229.7" fill="none" stroke="#000" stroke-width="0.55"/>
<text class="k" x="392.8" y="529" text-anchor="middle">0</text>
<text class="k" x="447.94" y="529" text-anchor="middle">5000</text>
<text class="k" x="503.08" y="529" text-anchor="middle">10000</text>
<text class="k" x="558.22" y="529" text-anchor="middle">15000</text>
<text class="k" x="613.36" y="529" text-anchor="middle">20000</text>
<text class="k" x="668.5" y="529" text-anchor="middle">25000</text>
<text class="k" x="374.6" y="511.2" text-anchor="end">100</text>
<text class="k" x="374.6" y="467.92" text-anchor="end">150</text>
<text class="k" x="374.6" y="424.64" text-anchor="end">200</text>
<text class="k" x="374.6" y="381.36" text-anchor="end">250</text>
<text class="k" x="374.6" y="338.08" text-anchor="end">300</text>
<text class="k" x="374.6" y="294.8" text-anchor="end">350</text>
<text class="t" x="530.4" y="286.2" text-anchor="middle">KeyUp Dynamics KeyUp Activities of Imposter User 4</text>
<text class="l" x="530.4" y="540" text-anchor="middle">Time (ms)</text>
<text class="l" transform="translate(358.5 405.25) rotate(-90)" text-anchor="middle">Key Up Duration (ms)</text>
<rect x="382.6" y="293.4" width="116" height="10.6" rx="1.3" fill="#fff" fill-opacity="0.8" stroke="#ccc" stroke-opacity="0.8" stroke-width="0.55"/>
<path d="M384.5 298.25h13.3" stroke="#ff0000" stroke-width="1" fill="none"/>
<path d="M389.55 296.65l3.2 3.2m0 -3.2l-3.2 3.2" stroke="#ff0000" stroke-width="1" fill="none"/>
<text class="g" x="402.5" y="300.7">KeyUp Durations (Imposter 4)</text>
</g>
</svg></body></html>
